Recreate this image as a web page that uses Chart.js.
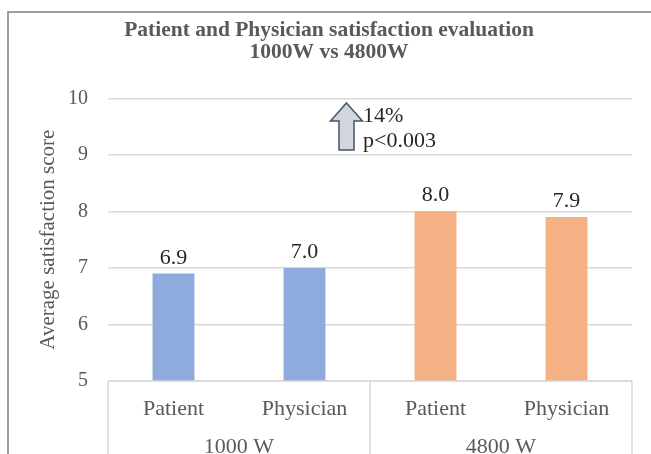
<!DOCTYPE html>
<html>
<head>
<meta charset="utf-8">
<script src="https://cdn.jsdelivr.net/npm/chart.js@4/dist/chart.umd.min.js"></script>
<style>
  html, body { margin: 0; padding: 0; background: #fff; }
  canvas { display: block; }
</style>
</head>
<body>
<canvas id="chart" width="651" height="454"></canvas>
<script>
// categories and scores
const roles = ['Patient', 'Physician', 'Patient', 'Physician'];
const groups = ['1000 W', '4800 W'];
const scores = [6.9, 7.0, 8.0, 7.9];
const barColors = ['#8faadc', '#8faadc', '#f4b183', '#f4b183'];
const yTicks = [5, 6, 7, 8, 9, 10];
const note = ['14%', 'p<0.003'];

const serif = '"Liberation Serif", "Times New Roman", serif';
const grey = '#595959';
const gridGrey = '#d9d9d9';

// outer frame, value labels, group row of the axis and the arrow note
const extras = {
    id: 'extras',
    afterDraw(chart) {
        const ctx = chart.ctx;
        const area = chart.chartArea;
        const x = chart.scales.x;
        const meta = chart.getDatasetMeta(0);
        ctx.save();

        // frame
        ctx.strokeStyle = '#7f7f7f';
        ctx.lineWidth = 1.5;
        ctx.beginPath();
        ctx.moveTo(8, chart.height);
        ctx.lineTo(8, 12);
        ctx.lineTo(chart.width, 12);
        ctx.stroke();

        // value labels
        ctx.font = '22px ' + serif;
        ctx.fillStyle = '#262626';
        ctx.textAlign = 'center';
        ctx.textBaseline = 'alphabetic';
        meta.data.forEach((bar, i) => {
            ctx.fillText(scores[i].toFixed(1), bar.x, bar.y - 10);
        });

        // axis box with group dividers
        const half = (x.getPixelForValue(1) - x.getPixelForValue(0)) / 2;
        const edges = [x.getPixelForValue(0) - half, x.getPixelForValue(1) + half, x.getPixelForValue(3) + half];
        ctx.strokeStyle = gridGrey;
        ctx.lineWidth = 1.5;
        ctx.beginPath();
        ctx.moveTo(edges[0], area.bottom);
        ctx.lineTo(edges[2], area.bottom);
        edges.forEach(e => {
            ctx.moveTo(e, area.bottom);
            ctx.lineTo(e, chart.height);
        });
        ctx.stroke();

        ctx.fillStyle = grey;
        ctx.textBaseline = 'middle';
        groups.forEach((g, i) => {
            ctx.fillText(g, (edges[i] + edges[i + 1]) / 2, area.bottom + 66);
        });

        // up arrow with the note
        const ax = 346.5, top = 103, neck = 121, base = 150;
        ctx.beginPath();
        ctx.moveTo(ax, top);
        ctx.lineTo(ax + 16, neck);
        ctx.lineTo(ax + 7.5, neck);
        ctx.lineTo(ax + 7.5, base);
        ctx.lineTo(ax - 7.5, base);
        ctx.lineTo(ax - 7.5, neck);
        ctx.lineTo(ax - 16, neck);
        ctx.closePath();
        ctx.fillStyle = '#d3d6de';
        ctx.fill();
        ctx.strokeStyle = '#44546a';
        ctx.lineWidth = 1.5;
        ctx.stroke();

        ctx.fillStyle = '#262626';
        ctx.textAlign = 'left';
        ctx.textBaseline = 'alphabetic';
        ctx.fillText(note[0], 363, 122);
        ctx.fillText(note[1], 363, 147);
        ctx.restore();
    }
};

new Chart(document.getElementById('chart'), {
    type: 'bar',
    data: {
        labels: roles,
        datasets: [{
            data: scores,
            backgroundColor: barColors,
            categoryPercentage: 1,
            barPercentage: 0.32
        }]
    },
    options: {
        responsive: false,
        animation: false,
        layout: { padding: { left: 10, right: 3, top: 0, bottom: 0 } },
        plugins: {
            legend: { display: false },
            tooltip: { enabled: false },
            title: {
                display: true,
                text: ['Patient and Physician satisfaction evaluation', '1000W vs 4800W'],
                color: grey,
                font: { family: serif, size: 21.5, weight: 'bold', lineHeight: 1.03 },
                padding: { top: 19, bottom: 35 }
            }
        },
        scales: {
            x: {
                grid: { display: false },
                border: { display: false },
                ticks: {
                    color: grey,
                    font: { family: serif, size: 22 },
                    padding: 7
                },
                afterFit(scale) { scale.height = 73; }
            },
            y: {
                min: 5,
                max: 10,
                afterBuildTicks(scale) { scale.ticks = yTicks.map(v => ({ value: v })); },
                grid: { color: gridGrey, lineWidth: 1.5, drawTicks: false },
                border: { display: false },
                ticks: {
                    color: grey,
                    font: { family: serif, size: 20 },
                    padding: 20
                },
                title: {
                    display: true,
                    text: 'Average satisfaction score',
                    color: grey,
                    font: { family: serif, size: 21 },
                    padding: { top: 26, bottom: 0 }
                },
                afterFit(scale) { scale.width = 98; }
            },
            // empty right margin so the title centres over the whole frame
            yRight: {
                position: 'right',
                min: 5,
                max: 10,
                grid: { display: false },
                border: { display: false },
                ticks: { display: false },
                afterFit(scale) { scale.width = 16; }
            }
        }
    },
    plugins: [extras]
});
</script>
</body>
</html>
